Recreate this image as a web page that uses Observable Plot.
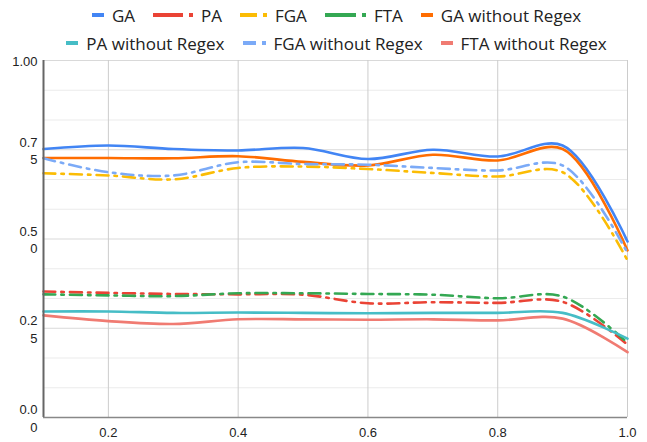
<!DOCTYPE html>
<html><head><meta charset="utf-8">
<script src="https://cdn.jsdelivr.net/npm/d3@7"></script>
<script src="https://cdn.jsdelivr.net/npm/@observablehq/plot@0.6"></script>
<style>
body{margin:0;background:#fff;}
#legend{height:52px;position:relative;font-family:"Open Sans",sans-serif;font-size:17px;color:#222;}
.row{position:absolute;left:0;width:647px;box-sizing:border-box;padding-left:26px;display:flex;justify-content:center;align-items:center;height:24px;}
.item{display:flex;align-items:center;margin:0 9px;white-space:nowrap;}
.item svg{margin-right:8px;}
</style></head><body>
<div id="legend"></div><div id="chart"></div>
<script>
const xs = [0.1, 0.2, 0.3, 0.4, 0.5, 0.6, 0.7, 0.8, 0.9, 1.0];
const seriesNames = ["GA", "PA", "FGA", "FTA", "GA without Regex", "PA without Regex", "FGA without Regex", "FTA without Regex"];
const seriesColors = ["#4285F4", "#EA4335", "#FBBC04", "#34A853", "#FF6D01", "#46BDC6", "#7BAAF7", "#F07B72"];
const seriesDashed = [false, true, true, true, false, false, true, false];
const legendDashLen = [0, 30, 17, 31, 0, 0, 13, 0];

const GA      = [0.752, 0.762, 0.752, 0.748, 0.755, 0.724, 0.750, 0.731, 0.762, 0.493];
const PA      = [0.353, 0.349, 0.346, 0.345, 0.344, 0.320, 0.323, 0.321, 0.324, 0.204];
const FGA     = [0.684, 0.678, 0.667, 0.699, 0.703, 0.696, 0.685, 0.675, 0.687, 0.440];
const FTA     = [0.345, 0.342, 0.340, 0.348, 0.348, 0.346, 0.344, 0.334, 0.339, 0.209];
const GA_noRegex  = [0.727, 0.727, 0.726, 0.732, 0.716, 0.706, 0.736, 0.720, 0.752, 0.468];
const PA_noRegex  = [0.297, 0.297, 0.293, 0.294, 0.293, 0.292, 0.293, 0.293, 0.293, 0.221];
const FGA_noRegex = [0.726, 0.687, 0.678, 0.715, 0.710, 0.708, 0.699, 0.692, 0.706, 0.461];
const FTA_noRegex = [0.286, 0.270, 0.262, 0.275, 0.275, 0.274, 0.275, 0.272, 0.277, 0.183];
const seriesValues = [GA, PA, FGA, FTA, GA_noRegex, PA_noRegex, FGA_noRegex, FTA_noRegex];

const xTicks = [0.2, 0.4, 0.6, 0.8, 1.0];
const xTickLabels = ["0.2", "0.4", "0.6", "0.8", "1.0"];
const yTicks = [0, 0.25, 0.5, 0.75, 1];
const yTickLabels = ["0.0\n0", "0.2\n5", "0.5\n0", "0.7\n5", "1.00"];
const yMinorTicks = [1/12, 2/12, 4/12, 5/12, 7/12, 8/12, 10/12, 11/12];

// Legend
const legend = document.getElementById("legend");
const rows = [[0,1,2,3,4],[5,6,7]];
const rowTops = [3, 31];
rows.forEach((idxs, r) => {
  const row = document.createElement("div");
  row.className = "row";
  row.style.top = rowTops[r] + "px";
  idxs.forEach(i => {
    const item = document.createElement("div");
    item.className = "item";
    let sw;
    if (seriesDashed[i]) {
      const L = legendDashLen[i];
      const w = L + 10;
      sw = `<svg width="${w}" height="6"><rect x="0" y="1" width="${L}" height="4" fill="${seriesColors[i]}"/><rect x="${L+6}" y="1" width="4" height="4" fill="${seriesColors[i]}"/></svg>`;
    } else {
      sw = `<svg width="12" height="6"><rect x="0" y="1" width="12" height="4" fill="${seriesColors[i]}"/></svg>`;
    }
    item.innerHTML = sw + `<span>${seriesNames[i]}</span>`;
    row.appendChild(item);
  });
  legend.appendChild(row);
});

const data = [];
seriesNames.forEach((n, i) => seriesValues[i].forEach((v, j) => data.push({x: xs[j], y: v, s: n})));

const lineMarks = seriesNames.map((n, i) => Plot.line(data.filter(d => d.s === n), {
  x: "x", y: "y", stroke: seriesColors[i], strokeWidth: 2.6,
  curve: "catmull-rom",
  strokeDasharray: seriesDashed[i] ? "12,6,2.5,6" : null
}));

const chart = Plot.plot({
  width: 647, height: 390,
  marginTop: 8, marginBottom: 25, marginLeft: 43, marginRight: 20,
  x: {domain: [0.1, 1.0]},
  y: {domain: [0, 1]},
  style: {fontFamily: "'Liberation Sans', Arial, sans-serif", fontSize: "13px", color: "#222", background: "#fff"},
  marks: [
    Plot.gridY(yMinorTicks, {stroke: "#ebebeb", strokeOpacity: 1}),
    Plot.gridY(yTicks, {stroke: "#d9d9d9", strokeOpacity: 1}),
    Plot.gridX(xTicks, {stroke: "#cccccc", strokeOpacity: 1}),
    Plot.axisX(xTicks, {tickSize: 0, tickPadding: 10, tickFormat: d => xTickLabels[xTicks.indexOf(d)], label: null}),
    Plot.axisY(yTicks, {tickSize: 0, tickPadding: 6, tickFormat: d => yTickLabels[yTicks.indexOf(d)], lineHeight: 1.35, label: null}),
    ...lineMarks,
    Plot.ruleX([0.1], {stroke: "#666", strokeWidth: 2}),
    Plot.ruleY([0], {stroke: "#888", strokeWidth: 1.5})
  ]
});
document.getElementById("chart").appendChild(chart);
</script>
</body></html>
